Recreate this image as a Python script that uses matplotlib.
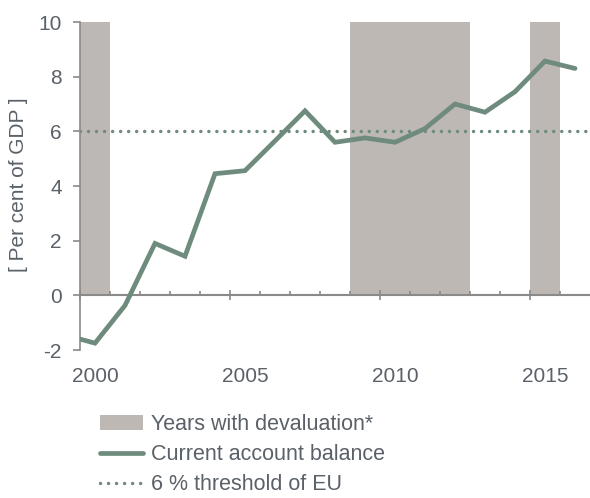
import matplotlib
matplotlib.use("Agg")
import matplotlib.pyplot as plt
import matplotlib.transforms as mtransforms

plt.rcParams['font.family'] = ['Liberation Sans', 'DejaVu Sans']

# current account balance, per cent of GDP (1999 point is clipped by the axis)
years = [1999, 2000, 2001, 2002, 2003, 2004, 2005, 2006, 2007, 2008,
         2009, 2010, 2011, 2012, 2013, 2014, 2015, 2016]
balance = [-1.45, -1.75, -0.37, 1.9, 1.43, 4.45, 4.56, 5.65, 6.75, 5.6,
           5.76, 5.6, 6.1, 7.0, 6.7, 7.45, 8.57, 8.3]

dev_years = [2000, 2009, 2010, 2011, 2012, 2015]
dev_height = [10, 10, 10, 10, 10, 10]

threshold = 6
xlabels = ['2000', '2005', '2010', '2015']
xlabel_pos = [2000, 2005, 2010, 2015]
yticks = [-2, 0, 2, 4, 6, 8, 10]

txt = '#5b6168'
spine = '#8a8a8a'
green = '#6e8b7d'
grey = '#bdb8b4'

fig = plt.figure(figsize=(5.9, 4.98), dpi=100)
ax = fig.add_axes([80/590, 1 - 350/498, 510/590, 328/498])

bars = ax.bar(dev_years, dev_height, width=1, color=grey, zorder=1,
              label='Years with devaluation*')
line, = ax.plot(years, balance, color=green, lw=3.4, zorder=3,
                solid_joinstyle='miter', solid_capstyle='round',
                label='Current account balance')
dots = ax.axhline(threshold, color=green, lw=2.5, ls=(0, (0.01, 2.3)),
                  dash_capstyle='round', zorder=2, label='6 % threshold of EU')

ax.set_xlim(1999.5, 2016.5)
ax.set_ylim(-2, 10)

for s in ['top', 'right']:
    ax.spines[s].set_visible(False)
ax.spines['left'].set_color(spine)
ax.spines['bottom'].set_color(spine)
ax.spines['left'].set_linewidth(1.2)
ax.spines['bottom'].set_linewidth(1.5)
ax.spines['bottom'].set_position(('data', 0))

ax.set_yticks(yticks)
ax.set_yticklabels([str(v) for v in yticks])
ax.tick_params(axis='y', direction='out', length=5, width=1.2, color=spine,
               labelcolor=txt, labelsize=15, pad=8)

ax.set_xticks([1999.5, 2004.5, 2009.5, 2014.5])
ax.set_xticks([y + 0.5 for y in range(1999, 2016)], minor=True)
ax.tick_params(axis='x', which='major', direction='inout', length=7, width=1.2,
               color=spine, labelbottom=False)
ax.tick_params(axis='x', which='minor', direction='in', length=3, width=1.2,
               color=spine)

trans = mtransforms.blended_transform_factory(ax.transData, ax.transAxes)
for xp, lab in zip(xlabel_pos, xlabels):
    ax.text(xp, -0.08, lab, transform=trans, ha='center', va='center',
            fontsize=15, color=txt)

fig.text(19/590, 1 - 185/498, '[ Per cent of GDP ]', rotation=90,
         ha='center', va='center', fontsize=15, color=txt)

leg = ax.legend(handles=[bars, line, dots], loc='upper left',
                bbox_to_anchor=(100/590, 1 - 414/498), bbox_transform=fig.transFigure,
                frameon=False, fontsize=15.5, handlelength=2.0, handletextpad=0.35,
                labelspacing=0.42, borderpad=0, borderaxespad=0)
for t in leg.get_texts():
    t.set_color(txt)

fig.savefig('out.png', dpi=100)
